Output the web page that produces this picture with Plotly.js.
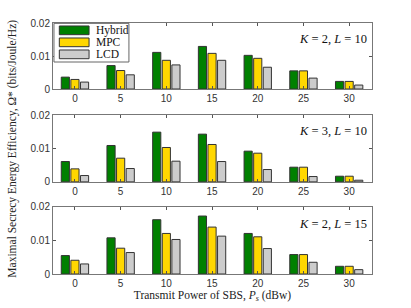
<!DOCTYPE html>
<html><head><meta charset="utf-8">
<script src="https://cdn.plot.ly/plotly-3.0.1.min.js"></script>
<style>html,body{margin:0;padding:0;background:#fff}#c{width:411px;height:308px}</style>
</head><body><div id="c"></div>
<script>
const powers = [0, 5, 10, 15, 20, 25, 30];
const seriesNames = ['Hybrid', 'MPC', 'LCD'];
const panelLabels = ['<i>K</i> = 2, <i>L</i> = 10', '<i>K</i> = 3, <i>L</i> = 10', '<i>K</i> = 2, <i>L</i> = 15'];
// Panel 1: K=2, L=10
const hybrid1 = [0.0036, 0.0071, 0.0111, 0.0129, 0.0102, 0.0055, 0.0023];
const mpc1    = [0.0029, 0.0056, 0.0087, 0.0108, 0.0093, 0.0055, 0.0023];
const lcd1    = [0.0021, 0.0043, 0.0073, 0.0087, 0.0066, 0.0033, 0.0012];
// Panel 2: K=3, L=10
const hybrid2 = [0.0061, 0.0109, 0.0149, 0.0143, 0.0092, 0.0044, 0.0017];
const mpc2    = [0.0039, 0.0071, 0.0103, 0.0112, 0.0086, 0.0044, 0.0017];
const lcd2    = [0.0019, 0.0040, 0.0062, 0.0061, 0.0037, 0.0016, 0.0005];
// Panel 3: K=2, L=15
const hybrid3 = [0.0055, 0.0108, 0.0162, 0.0173, 0.0121, 0.0058, 0.0023];
const mpc3    = [0.0041, 0.0077, 0.0121, 0.0140, 0.0111, 0.0058, 0.0023];
const lcd3    = [0.0030, 0.0064, 0.0103, 0.0113, 0.0076, 0.0035, 0.0013];
const yTickVals = [0, 0.01, 0.02];
const yTickText = ['0', '0.01', '0.02'];

const colors = ['#008000', '#FFD700', '#CCCCCC'];
const serif = 'Liberation Serif, Times New Roman, serif';
const panels = [[hybrid1, mpc1, lcd1], [hybrid2, mpc2, lcd2], [hybrid3, mpc3, lcd3]];
const traces = [];
panels.forEach((p, i) => {
  p.forEach((vals, j) => {
    traces.push({
      type: 'bar', x: powers, y: vals, name: seriesNames[j],
      legendgroup: seriesNames[j], showlegend: false,
      xaxis: i === 0 ? 'x' : 'x' + (i + 1), yaxis: i === 0 ? 'y' : 'y' + (i + 1),
      marker: {color: colors[j], line: {color: '#333', width: 1}},
      hoverinfo: 'skip'
    });
  });
});
const tickFont = {family: 'Liberation Sans, Arial, sans-serif', size: 10, color: '#333'};
function xa(anchor) {
  return {anchor: anchor, range: [-2.4, 32.5], tickvals: powers, ticktext: powers.map(String),
    ticks: 'inside', ticklen: 3, tickcolor: '#555', showline: true, linecolor: '#777', linewidth: 1,
    mirror: 'ticks', showgrid: false, zeroline: false, tickfont: tickFont};
}
function ya(anchor, dom) {
  return {anchor: anchor, domain: dom, range: [0, 0.02], tickvals: yTickVals, ticktext: yTickText,
    ticks: 'inside', ticklen: 3, tickcolor: '#555', showline: true, linecolor: '#777', linewidth: 1,
    mirror: 'ticks', showgrid: false, zeroline: false, tickfont: tickFont};
}
// custom legend (styling only) inside the top panel
const shapes = [{type: 'rect', xref: 'x domain', yref: 'y domain', x0: 0.003, x1: 0.238, y0: 0.409, y1: 0.995,
  fillcolor: '#fff', line: {color: '#666', width: 1}, layer: 'above'}];
const legRows = [[0.955, 0.823, 0.889], [0.773, 0.641, 0.706], [0.591, 0.459, 0.524]];
const annotations = [];
seriesNames.forEach((n, j) => {
  shapes.push({type: 'rect', xref: 'x domain', yref: 'y domain', x0: 0.0198, x1: 0.113,
    y0: legRows[j][1], y1: legRows[j][0], fillcolor: colors[j], line: {color: '#333', width: 1}, layer: 'above'});
  annotations.push({xref: 'x domain', yref: 'y domain', x: 0.1285, y: legRows[j][2], xanchor: 'left', yanchor: 'middle',
    showarrow: false, text: n, font: {family: serif, size: 11.5, color: '#111'}});
});
const labY = [0.935, 0.57, 0.2];
panelLabels.forEach((t, i) => annotations.push({xref: 'paper', yref: 'paper', x: 0.99, y: labY[i], xanchor: 'right',
  yanchor: 'middle', showarrow: false, text: t, font: {family: serif, size: 12.5, color: '#111'}}));
annotations.push({xref: 'paper', yref: 'paper', x: -0.128, y: 0.5, xanchor: 'center', yanchor: 'middle', showarrow: false,
  textangle: -90, text: 'Maximal Secrecy Energy Efficiency, Ω* (bits/Joule/Hz)',
  font: {family: serif, size: 11.5, color: '#222'}});

const layout = {
  width: 411, height: 308,
  margin: {l: 53, r: 39, t: 23, b: 34},
  paper_bgcolor: '#fff', plot_bgcolor: '#fff',
  barmode: 'group', bargap: 0.37, bargroupgap: 0.15,
  showlegend: false,
  xaxis: xa('y'), xaxis2: xa('y2'), xaxis3: Object.assign(xa('y3'), {
    title: {text: 'Transmit Power of SBS, <i>P<sub>s</sub></i> (dBw)', standoff: 2,
      font: {family: serif, size: 11.5, color: '#222'}}}),
  yaxis: ya('x', [0.737, 1]),
  yaxis2: ya('x2', [0.367, 0.633]),
  yaxis3: ya('x3', [0, 0.267]),
  shapes: shapes,
  annotations: annotations
};
Plotly.newPlot('c', traces, layout, {displayModeBar: false, staticPlot: true});
</script></body></html>
